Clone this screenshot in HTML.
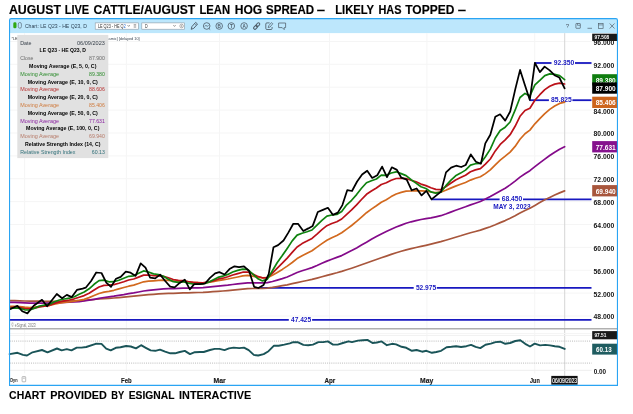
<!DOCTYPE html>
<html lang="en"><head><meta charset="utf-8"><title>August Live Cattle/August Lean Hog Spread</title>
<style>html,body{margin:0;padding:0;background:#fff}body{width:633px;height:414px;overflow:hidden}</style></head>
<body>
<svg width="633" height="414" viewBox="0 0 633 414" style="display:block;font-family:'Liberation Sans',sans-serif">
<rect width="633" height="414" fill="#fff"/>
<text x="8.9" y="13.5" font-size="12.0" font-weight="bold" fill="#000" text-anchor="start" textLength="52.2" lengthAdjust="spacingAndGlyphs" stroke="#000" stroke-width="0.15">AUGUST</text>
<text x="64.7" y="13.5" font-size="12.0" font-weight="bold" fill="#000" text-anchor="start" textLength="24.4" lengthAdjust="spacingAndGlyphs" stroke="#000" stroke-width="0.15">LIVE</text>
<text x="93.6" y="13.5" font-size="12.0" font-weight="bold" fill="#000" text-anchor="start" textLength="101.6" lengthAdjust="spacingAndGlyphs" stroke="#000" stroke-width="0.15">CATTLE/AUGUST</text>
<text x="199.4" y="13.5" font-size="12.0" font-weight="bold" fill="#000" text-anchor="start" textLength="30.7" lengthAdjust="spacingAndGlyphs" stroke="#000" stroke-width="0.15">LEAN</text>
<text x="234.7" y="13.5" font-size="12.0" font-weight="bold" fill="#000" text-anchor="start" textLength="27.5" lengthAdjust="spacingAndGlyphs" stroke="#000" stroke-width="0.15">HOG</text>
<text x="266.0" y="13.5" font-size="12.0" font-weight="bold" fill="#000" text-anchor="start" textLength="48.1" lengthAdjust="spacingAndGlyphs" stroke="#000" stroke-width="0.15">SPREAD</text>
<text x="316.7" y="13.5" font-size="12.0" font-weight="bold" fill="#000" text-anchor="start" textLength="8.3" lengthAdjust="spacingAndGlyphs" stroke="#000" stroke-width="0.15">–</text>
<text x="335.2" y="13.5" font-size="12.0" font-weight="bold" fill="#000" text-anchor="start" textLength="38.9" lengthAdjust="spacingAndGlyphs" stroke="#000" stroke-width="0.15">LIKELY</text>
<text x="378.4" y="13.5" font-size="12.0" font-weight="bold" fill="#000" text-anchor="start" textLength="23.1" lengthAdjust="spacingAndGlyphs" stroke="#000" stroke-width="0.15">HAS</text>
<text x="405.2" y="13.5" font-size="12.0" font-weight="bold" fill="#000" text-anchor="start" textLength="49.1" lengthAdjust="spacingAndGlyphs" stroke="#000" stroke-width="0.15">TOPPED</text>
<text x="457.7" y="13.5" font-size="12.0" font-weight="bold" fill="#000" text-anchor="start" textLength="8.3" lengthAdjust="spacingAndGlyphs" stroke="#000" stroke-width="0.15">–</text>
<text x="9.1" y="398.6" font-size="10.4" font-weight="bold" fill="#000" text-anchor="start" textLength="36.6" lengthAdjust="spacingAndGlyphs" stroke="#000" stroke-width="0.1">CHART</text>
<text x="50.2" y="398.6" font-size="10.4" font-weight="bold" fill="#000" text-anchor="start" textLength="56.6" lengthAdjust="spacingAndGlyphs" stroke="#000" stroke-width="0.1">PROVIDED</text>
<text x="111.3" y="398.6" font-size="10.4" font-weight="bold" fill="#000" text-anchor="start" textLength="12.9" lengthAdjust="spacingAndGlyphs" stroke="#000" stroke-width="0.1">BY</text>
<text x="128.7" y="398.6" font-size="10.4" font-weight="bold" fill="#000" text-anchor="start" textLength="45.8" lengthAdjust="spacingAndGlyphs" stroke="#000" stroke-width="0.1">ESIGNAL</text>
<text x="179.1" y="398.6" font-size="10.4" font-weight="bold" fill="#000" text-anchor="start" textLength="72.2" lengthAdjust="spacingAndGlyphs" stroke="#000" stroke-width="0.1">INTERACTIVE</text>
<rect x="9.7" y="19.0" width="607.4" height="14.1" fill="#bde7fc"/>
<line x1="9.7" x2="591.7" y1="41.5" y2="41.5" stroke="#f5f5f5" stroke-width="1"/>
<line x1="9.7" x2="591.7" y1="64.3" y2="64.3" stroke="#f5f5f5" stroke-width="1"/>
<line x1="9.7" x2="591.7" y1="87.2" y2="87.2" stroke="#f5f5f5" stroke-width="1"/>
<line x1="9.7" x2="591.7" y1="110.1" y2="110.1" stroke="#f5f5f5" stroke-width="1"/>
<line x1="9.7" x2="591.7" y1="133.0" y2="133.0" stroke="#f5f5f5" stroke-width="1"/>
<line x1="9.7" x2="591.7" y1="155.9" y2="155.9" stroke="#f5f5f5" stroke-width="1"/>
<line x1="9.7" x2="591.7" y1="178.7" y2="178.7" stroke="#f5f5f5" stroke-width="1"/>
<line x1="9.7" x2="591.7" y1="201.6" y2="201.6" stroke="#f5f5f5" stroke-width="1"/>
<line x1="9.7" x2="591.7" y1="224.5" y2="224.5" stroke="#f5f5f5" stroke-width="1"/>
<line x1="9.7" x2="591.7" y1="247.4" y2="247.4" stroke="#f5f5f5" stroke-width="1"/>
<line x1="9.7" x2="591.7" y1="270.3" y2="270.3" stroke="#f5f5f5" stroke-width="1"/>
<line x1="9.7" x2="591.7" y1="293.1" y2="293.1" stroke="#f5f5f5" stroke-width="1"/>
<line x1="9.7" x2="591.7" y1="316.0" y2="316.0" stroke="#f5f5f5" stroke-width="1"/>
<line x1="24.6" x2="24.6" y1="33.1" y2="373.5" stroke="#f5f5f5" stroke-width="1"/>
<line x1="126.4" x2="126.4" y1="33.1" y2="373.5" stroke="#f5f5f5" stroke-width="1"/>
<line x1="219.5" x2="219.5" y1="33.1" y2="373.5" stroke="#f5f5f5" stroke-width="1"/>
<line x1="329.5" x2="329.5" y1="33.1" y2="373.5" stroke="#f5f5f5" stroke-width="1"/>
<line x1="426.9" x2="426.9" y1="33.1" y2="373.5" stroke="#f5f5f5" stroke-width="1"/>
<line x1="534.7" x2="534.7" y1="33.1" y2="373.5" stroke="#f5f5f5" stroke-width="1"/>
<line x1="564.7" x2="564.7" y1="33.1" y2="376" stroke="#d6d6d6" stroke-width="1"/>
<line x1="9.7" x2="617" y1="328.75" y2="328.75" stroke="#b0b0b0" stroke-width="1.4"/>
<line x1="9.7" x2="591.7" y1="333.5" y2="333.5" stroke="#f5f5f5" stroke-width="1"/>
<line x1="9.7" x2="591.7" y1="335.4" y2="335.4" stroke="#f1f1f1" stroke-width="1"/>
<line x1="9.7" x2="591.7" y1="370.3" y2="370.3" stroke="#eeeeee" stroke-width="1"/>
<line x1="9.7" x2="591.7" y1="341.1" y2="341.1" stroke="#b2b2b2" stroke-width="0.9" stroke-dasharray="1 1.13"/>
<line x1="9.7" x2="591.7" y1="363.1" y2="363.1" stroke="#b2b2b2" stroke-width="0.9" stroke-dasharray="1 1.13"/>
<line x1="534.6" x2="551.5" y1="63.0" y2="63.0" stroke="#1818c0" stroke-width="1.8"/>
<line x1="575" x2="591.5" y1="63.0" y2="63.0" stroke="#1818c0" stroke-width="1.8"/>
<text x="553.7" y="64.9" font-size="7.2" font-weight="bold" fill="#1818c0" text-anchor="start" textLength="20.6" lengthAdjust="spacingAndGlyphs" >92.350</text>
<line x1="529.6" x2="548.9" y1="100.2" y2="100.2" stroke="#1818c0" stroke-width="1.8"/>
<line x1="572.4" x2="591.5" y1="100.2" y2="100.2" stroke="#1818c0" stroke-width="1.8"/>
<text x="551.1" y="102.0" font-size="7.2" font-weight="bold" fill="#1818c0" text-anchor="start" textLength="20.6" lengthAdjust="spacingAndGlyphs" >85.825</text>
<line x1="431.3" x2="499.6" y1="199.4" y2="199.4" stroke="#1818c0" stroke-width="1.8"/>
<line x1="523" x2="591.5" y1="199.4" y2="199.4" stroke="#1818c0" stroke-width="1.8"/>
<text x="501.7" y="201.3" font-size="7.2" font-weight="bold" fill="#1818c0" text-anchor="start" textLength="20.6" lengthAdjust="spacingAndGlyphs" >68.450</text>
<text x="493.3" y="209.1" font-size="7.0" font-weight="bold" fill="#1818c0" text-anchor="start" textLength="37.3" lengthAdjust="spacingAndGlyphs" >MAY 3, 2023</text>
<line x1="261" x2="413.7" y1="287.9" y2="287.9" stroke="#1818c0" stroke-width="1.8"/>
<line x1="436.8" x2="591.5" y1="287.9" y2="287.9" stroke="#1818c0" stroke-width="1.8"/>
<text x="415.9" y="290.3" font-size="7.2" font-weight="bold" fill="#1818c0" text-anchor="start" textLength="20.3" lengthAdjust="spacingAndGlyphs" >52.975</text>
<line x1="9.7" x2="288.8" y1="319.8" y2="319.8" stroke="#1818c0" stroke-width="1.8"/>
<line x1="312.1" x2="591.5" y1="319.8" y2="319.8" stroke="#1818c0" stroke-width="1.8"/>
<text x="291.0" y="321.7" font-size="7.2" font-weight="bold" fill="#1818c0" text-anchor="start" textLength="20.2" lengthAdjust="spacingAndGlyphs" >47.425</text>
<clipPath id="pc"><rect x="9.7" y="33.1" width="582" height="295"/></clipPath>
<g clip-path="url(#pc)">
<polyline points="9.9,300.6 14.8,300.7 19.8,300.8 24.7,301.0 29.7,301.1 34.6,301.2 39.6,301.2 44.5,301.3 49.5,301.3 54.4,301.3 59.4,301.3 64.3,301.2 69.3,301.0 74.3,300.8 79.2,300.6 84.2,300.3 89.1,299.9 94.1,299.5 99.0,299.0 104.0,298.6 108.9,298.3 113.9,298.0 118.8,297.6 123.8,297.1 128.7,296.6 133.7,296.1 138.6,295.6 143.6,295.1 148.5,294.7 153.5,294.3 158.5,293.9 163.4,293.6 168.4,293.4 173.3,293.3 178.3,293.1 183.2,292.9 188.2,292.8 193.1,292.7 198.1,292.5 203.0,292.4 208.0,292.1 212.9,291.7 217.9,291.4 222.8,291.0 227.8,290.6 232.7,290.1 237.7,289.7 242.7,289.2 247.6,288.7 252.6,288.5 257.5,288.5 262.5,288.4 267.4,288.1 272.4,287.4 277.3,286.6 282.3,285.7 287.2,284.8 292.2,283.7 297.1,282.6 302.1,281.5 307.0,280.5 312.0,279.4 317.0,278.1 321.9,276.8 326.9,275.4 331.8,274.1 336.8,272.8 341.7,271.4 346.7,269.8 351.6,268.2 356.6,266.5 361.5,264.8 366.5,263.0 371.4,261.2 376.4,259.5 381.3,257.8 386.3,256.1 391.2,254.4 396.2,252.7 401.2,251.3 406.1,249.9 411.1,248.7 416.0,247.5 421.0,246.4 425.9,245.3 430.9,244.1 435.8,242.9 440.8,241.6 445.7,240.2 450.7,238.7 455.6,237.2 460.6,235.8 465.5,234.3 470.5,232.8 475.4,231.5 480.4,230.1 485.4,228.4 490.3,226.7 495.3,224.7 500.2,222.6 505.2,220.6 510.1,218.3 515.1,215.8 520.0,213.1 525.0,210.6 529.9,208.3 534.9,205.4 539.8,202.6 544.8,199.8 549.7,197.4 554.7,195.1 559.6,192.9 564.6,190.9" fill="none" stroke="#a8563c" stroke-width="1.7" stroke-linejoin="round" stroke-linecap="round" />
<polyline points="9.9,302.3 14.8,302.4 19.8,302.6 24.7,302.9 29.7,303.1 34.6,303.2 39.6,303.2 44.5,303.2 49.5,303.1 54.4,302.9 59.4,302.6 64.3,302.4 69.3,302.2 74.3,302.0 79.2,301.7 84.2,301.0 89.1,300.2 94.1,299.3 99.0,298.4 104.0,297.5 108.9,296.9 113.9,296.2 118.8,295.4 123.8,294.6 128.7,293.7 133.7,292.9 138.6,292.0 143.6,291.0 148.5,290.3 153.5,289.8 158.5,289.3 163.4,288.9 168.4,288.7 173.3,288.6 178.3,288.4 183.2,288.2 188.2,288.1 193.1,287.9 198.1,287.8 203.0,287.6 208.0,287.2 212.9,286.7 217.9,286.1 222.8,285.6 227.8,285.1 232.7,284.5 237.7,283.8 242.7,283.3 247.6,282.8 252.6,282.8 257.5,282.9 262.5,282.9 267.4,282.6 272.4,281.5 277.3,280.1 282.3,278.6 287.2,277.0 292.2,274.8 297.1,272.5 302.1,270.8 307.0,269.2 312.0,267.6 317.0,265.5 321.9,263.3 326.9,261.1 331.8,259.2 336.8,257.4 341.7,255.6 346.7,253.1 351.6,250.6 356.6,247.9 361.5,245.1 366.5,242.3 371.4,239.3 376.4,236.6 381.3,233.9 386.3,231.5 391.2,229.2 396.2,227.0 401.2,225.1 406.1,223.3 411.1,221.8 416.0,220.6 421.0,219.5 425.9,218.6 430.9,217.9 435.8,216.8 440.8,215.7 445.7,214.0 450.7,212.1 455.6,210.2 460.6,208.5 465.5,206.8 470.5,204.9 475.4,203.2 480.4,201.5 485.4,199.1 490.3,196.6 495.3,193.7 500.2,190.9 505.2,188.2 510.1,184.9 515.1,181.1 520.0,177.1 525.0,173.7 529.9,170.7 534.9,166.7 539.8,162.9 544.8,159.1 549.7,155.5 554.7,152.2 559.6,149.2 564.6,146.7" fill="none" stroke="#840a8a" stroke-width="1.7" stroke-linejoin="round" stroke-linecap="round" />
<polyline points="9.9,306.4 14.8,306.4 19.8,306.7 24.7,307.2 29.7,307.5 34.6,307.2 39.6,306.5 44.5,306.0 49.5,305.3 54.4,304.1 59.4,303.1 64.3,302.4 69.3,301.9 74.3,301.2 79.2,300.4 84.2,299.3 89.1,297.6 94.1,295.5 99.0,293.5 104.0,292.1 108.9,291.3 113.9,290.3 118.8,288.9 123.8,287.5 128.7,286.2 133.7,285.1 138.6,283.5 143.6,281.8 148.5,281.1 153.5,280.8 158.5,280.4 163.4,280.2 168.4,280.4 173.3,280.9 178.3,281.2 183.2,281.5 188.2,282.0 193.1,282.3 198.1,282.6 203.0,282.8 208.0,282.4 212.9,281.6 217.9,280.7 222.8,279.9 227.8,279.0 232.7,278.0 237.7,277.0 242.7,275.9 247.6,275.3 252.6,276.1 257.5,277.2 262.5,277.9 267.4,277.7 272.4,275.2 277.3,272.4 282.3,269.4 287.2,266.1 292.2,262.5 297.1,258.6 302.1,255.8 307.0,253.2 312.0,250.7 317.0,247.1 321.9,243.6 326.9,240.3 331.8,237.8 336.8,235.5 341.7,232.8 346.7,229.1 351.6,225.5 356.6,221.4 361.5,217.1 366.5,212.7 371.4,209.1 376.4,205.7 381.3,202.2 386.3,199.7 391.2,196.6 396.2,194.0 401.2,192.4 406.1,191.2 411.1,191.0 416.0,190.7 421.0,190.9 425.9,191.1 430.9,192.0 435.8,192.6 440.8,192.2 445.7,190.3 450.7,188.1 455.6,186.1 460.6,184.3 465.5,182.5 470.5,180.1 475.4,178.2 480.4,176.8 485.4,173.6 490.3,169.8 495.3,164.8 500.2,160.1 505.2,156.2 510.1,152.1 515.1,146.4 520.0,139.3 525.0,133.7 529.9,130.1 534.9,123.8 539.8,118.6 544.8,113.7 549.7,109.4 554.7,106.0 559.6,103.4 564.6,102.1" fill="none" stroke="#d2691e" stroke-width="1.7" stroke-linejoin="round" stroke-linecap="round" />
<polyline points="9.9,307.5 14.8,307.4 19.8,307.7 24.7,308.6 29.7,308.9 34.6,308.2 39.6,307.0 44.5,306.2 49.5,305.3 54.4,303.5 59.4,301.9 64.3,300.9 69.3,300.0 74.3,298.8 79.2,297.2 84.2,295.6 89.1,293.2 94.1,290.0 99.0,287.0 104.0,285.4 108.9,285.2 113.9,284.6 118.8,283.3 123.8,281.7 128.7,280.0 133.7,279.0 138.6,277.1 143.6,275.1 148.5,275.0 153.5,275.7 158.5,275.8 163.4,276.3 168.4,277.8 173.3,279.5 178.3,280.4 183.2,280.5 188.2,281.5 193.1,282.3 198.1,282.7 203.0,282.9 208.0,282.2 212.9,280.9 217.9,279.2 222.8,278.2 227.8,276.8 232.7,275.0 237.7,273.6 242.7,272.2 247.6,272.0 252.6,273.9 257.5,276.3 262.5,277.8 267.4,277.6 272.4,273.2 277.3,268.1 282.3,263.2 287.2,258.1 292.2,252.4 297.1,247.0 302.1,243.6 307.0,241.1 312.0,238.4 317.0,234.2 321.9,229.7 326.9,225.7 331.8,223.5 336.8,221.7 341.7,219.0 346.7,214.3 351.6,209.9 356.6,204.9 361.5,199.5 366.5,194.3 371.4,191.0 376.4,188.0 381.3,184.5 386.3,182.8 391.2,180.3 396.2,178.5 401.2,178.3 406.1,178.5 411.1,180.2 416.0,181.8 421.0,184.1 425.9,185.6 430.9,187.8 435.8,189.4 440.8,189.7 445.7,186.7 450.7,183.3 455.6,180.0 460.6,177.6 465.5,175.2 470.5,171.7 475.4,169.9 480.4,168.7 485.4,164.1 490.3,159.0 495.3,150.9 500.2,144.4 505.2,139.9 510.1,134.7 515.1,126.3 520.0,116.3 525.0,110.5 529.9,108.2 534.9,100.2 539.8,94.7 544.8,89.6 549.7,86.3 554.7,84.1 559.6,83.1 564.6,84.0" fill="none" stroke="#bb1119" stroke-width="1.7" stroke-linejoin="round" stroke-linecap="round" />
<polyline points="9.9,308.7 14.8,308.0 19.8,308.3 24.7,309.8 29.7,310.0 34.6,308.1 39.6,306.0 44.5,305.1 49.5,304.2 54.4,301.7 59.4,300.0 64.3,299.0 69.3,298.2 74.3,296.7 79.2,294.3 84.2,292.0 89.1,288.8 94.1,284.3 99.0,280.6 104.0,280.1 108.9,281.8 113.9,281.7 118.8,280.3 123.8,278.2 128.7,276.3 133.7,275.8 138.6,273.3 143.6,270.9 148.5,272.0 153.5,273.9 158.5,274.5 163.4,276.3 168.4,279.2 173.3,281.7 178.3,282.3 183.2,281.6 188.2,283.1 193.1,284.0 198.1,284.1 203.0,284.0 208.0,282.5 212.9,279.9 217.9,277.4 222.8,276.2 227.8,274.4 232.7,272.0 237.7,270.4 242.7,269.1 247.6,269.4 252.6,273.8 257.5,278.4 262.5,280.9 267.4,279.1 272.4,270.8 277.3,262.5 282.3,255.6 287.2,248.4 292.2,240.9 297.1,235.1 302.1,233.2 307.0,231.8 312.0,230.0 317.0,225.1 321.9,220.3 326.9,216.1 331.8,215.0 336.8,214.5 341.7,211.6 346.7,204.8 351.6,200.3 356.6,194.6 361.5,188.3 366.5,182.7 371.4,180.7 376.4,179.0 381.3,175.2 386.3,175.3 391.2,173.0 396.2,171.8 401.2,173.6 406.1,175.6 411.1,179.7 416.0,183.1 421.0,186.8 425.9,188.5 430.9,191.9 435.8,193.2 440.8,192.2 445.7,185.9 450.7,180.4 455.6,175.8 460.6,173.1 465.5,170.1 470.5,165.1 475.4,163.7 480.4,163.4 485.4,156.7 490.3,149.1 495.3,138.0 500.2,130.5 505.2,127.2 510.1,122.0 515.1,110.2 520.0,97.5 525.0,93.4 529.9,95.9 534.9,84.9 539.8,80.4 544.8,75.6 549.7,73.9 554.7,74.3 559.6,75.6 564.6,79.6" fill="none" stroke="#0f820f" stroke-width="1.7" stroke-linejoin="round" stroke-linecap="round" />
<polyline points="9.9,309.2 17.4,305.8 22.2,311.2 27.4,313.4 33.7,305.8 42.0,299.8 47.1,306.2 56.8,294.0 62.1,298.2 66.8,294.9 71.8,297.1 76.9,289.9 82.6,288.6 85.7,287.7 91.1,281.0 96.2,272.5 101.5,273.0 106.3,282.6 111.0,286.9 116.0,278.8 120.7,276.9 125.8,271.7 130.6,272.7 135.6,275.9 140.7,263.3 145.5,267.7 150.1,277.6 155.2,278.4 160.1,274.6 165.2,281.0 170.2,286.7 174.6,287.3 179.7,282.9 184.8,279.7 189.8,289.4 194.2,284.1 199.9,284.1 205.0,283.5 210.0,277.8 215.1,273.4 219.3,272.1 224.5,274.5 229.5,269.1 234.5,266.3 239.0,267.2 244.0,266.3 249.1,271.0 254.1,286.8 258.5,288.0 263.6,284.9 268.7,274.1 273.5,247.2 278.1,245.1 283.5,240.5 288.2,232.9 293.3,223.8 298.0,223.8 303.3,231.0 308.3,228.4 312.7,225.9 317.8,212.0 322.9,209.9 327.9,207.8 333.0,214.9 337.8,212.6 342.4,205.1 347.3,190.1 352.0,191.0 357.1,181.5 362.1,174.5 367.2,170.7 372.2,177.9 377.3,175.2 382.1,166.6 387.0,177.1 391.8,167.3 396.9,169.9 401.3,177.7 406.7,179.6 411.7,190.3 416.6,188.5 421.6,195.4 426.4,190.9 431.5,199.4 441.0,191.6 446.0,172.4 451.1,167.6 456.1,165.7 461.2,167.0 465.7,165.0 470.8,154.4 475.9,161.8 480.9,163.7 485.3,143.4 490.3,134.7 495.3,116.7 500.1,114.3 505.2,120.6 510.2,111.5 515.3,89.1 520.1,69.9 524.8,84.7 529.8,99.9 534.9,62.8 539.9,72.1 544.6,66.6 549.7,70.4 554.5,75.2 559.3,77.5 564.6,88.3" fill="none" stroke="#000" stroke-width="1.75" stroke-linejoin="round" stroke-linecap="round" stroke-linejoin="miter"/>
</g>
<polyline points="9.6,354.1 17.5,352.8 23.0,354.9 27.0,355.5 32.5,352.3 42.0,350.0 47.5,352.3 57.0,348.5 61.7,350.4 66.8,349.2 71.5,350.4 76.7,347.6 81.5,347.6 86.2,347.0 95.7,343.8 101.5,343.9 106.2,348.7 110.7,350.4 115.8,347.8 120.5,347.3 126.1,346.0 130.8,346.5 136.0,348.4 141.1,345.2 145.8,347.8 150.6,350.4 155.3,350.8 160.0,349.6 165.1,351.7 170.3,353.3 175.0,353.3 179.8,352.0 184.8,350.9 190.0,354.1 194.8,352.2 200.0,352.0 203.7,352.0 210.0,350.0 214.7,348.9 219.5,348.9 224.5,350.1 229.0,348.4 233.7,347.6 239.2,348.1 244.0,347.6 248.7,350.1 253.8,354.9 258.2,355.5 263.7,354.1 268.5,351.2 274.0,345.7 278.7,345.7 284.3,344.6 289.8,343.3 293.2,342.2 297.6,342.2 303.4,344.9 308.2,345.2 312.9,344.6 318.4,342.1 323.2,342.1 327.9,341.4 333.0,344.6 337.7,344.6 342.9,343.0 348.5,341.3 351.9,342.1 357.9,340.6 362.7,340.2 367.4,339.9 372.5,343.0 376.9,342.5 381.6,341.4 386.9,345.2 392.1,343.8 396.1,344.4 401.6,346.8 406.3,347.8 411.9,350.8 416.6,350.0 422.1,351.7 426.4,350.8 431.9,352.8 436.3,352.0 441.1,350.8 446.6,347.3 451.4,346.8 456.1,346.2 461.1,347.0 466.4,346.2 471.1,344.9 475.6,346.9 480.3,348.1 485.5,344.7 490.8,343.6 495.5,342.1 500.3,341.7 505.3,343.8 510.1,343.0 515.3,341.0 520.3,340.2 525.2,343.8 530.0,346.5 534.7,343.6 540.1,345.4 545.3,344.9 550.0,345.4 554.8,346.2 559.5,346.8 564.7,348.9" fill="none" stroke="#1a5458" stroke-width="1.9" stroke-linejoin="round" stroke-linecap="round" />
<rect x="17.3" y="34.9" width="91" height="123.2" fill="#e1e1e1"/>
<text x="20.2" y="44.5" font-size="6.2" font-weight="normal" fill="#39424c" text-anchor="start" textLength="11.3" lengthAdjust="spacingAndGlyphs" >Date</text>
<text x="77.0" y="44.5" font-size="6.2" font-weight="normal" fill="#39424c" text-anchor="start" textLength="27.9" lengthAdjust="spacingAndGlyphs" >06/09/2023</text>
<text x="39.6" y="52.3" font-size="6.2" font-weight="bold" fill="#000" text-anchor="start" textLength="46.4" lengthAdjust="spacingAndGlyphs" >LE Q23 - HE Q23, D</text>
<text x="20.2" y="60.1" font-size="6.2" font-weight="normal" fill="#6c6c6c" text-anchor="start" textLength="13.2" lengthAdjust="spacingAndGlyphs" >Close</text>
<text x="89.0" y="60.1" font-size="6.2" font-weight="normal" fill="#6c6c6c" text-anchor="start" textLength="15.9" lengthAdjust="spacingAndGlyphs" >87.900</text>
<text x="29.1" y="67.9" font-size="6.2" font-weight="bold" fill="#000" text-anchor="start" textLength="67.3" lengthAdjust="spacingAndGlyphs" >Moving Average (E, 5, 0, C)</text>
<text x="20.2" y="75.7" font-size="6.2" font-weight="normal" fill="#2c8c2c" text-anchor="start" textLength="38.8" lengthAdjust="spacingAndGlyphs" >Moving Average</text>
<text x="89.0" y="75.7" font-size="6.2" font-weight="normal" fill="#2c8c2c" text-anchor="start" textLength="15.9" lengthAdjust="spacingAndGlyphs" >89.380</text>
<text x="27.7" y="83.5" font-size="6.2" font-weight="bold" fill="#000" text-anchor="start" textLength="70.2" lengthAdjust="spacingAndGlyphs" >Moving Average (E, 10, 0, C)</text>
<text x="20.2" y="91.3" font-size="6.2" font-weight="normal" fill="#b83030" text-anchor="start" textLength="38.8" lengthAdjust="spacingAndGlyphs" >Moving Average</text>
<text x="89.0" y="91.3" font-size="6.2" font-weight="normal" fill="#b83030" text-anchor="start" textLength="15.9" lengthAdjust="spacingAndGlyphs" >88.606</text>
<text x="27.7" y="99.1" font-size="6.2" font-weight="bold" fill="#000" text-anchor="start" textLength="70.2" lengthAdjust="spacingAndGlyphs" >Moving Average (E, 20, 0, C)</text>
<text x="20.2" y="106.9" font-size="6.2" font-weight="normal" fill="#cf7a3c" text-anchor="start" textLength="38.8" lengthAdjust="spacingAndGlyphs" >Moving Average</text>
<text x="89.0" y="106.9" font-size="6.2" font-weight="normal" fill="#cf7a3c" text-anchor="start" textLength="15.9" lengthAdjust="spacingAndGlyphs" >85.406</text>
<text x="27.7" y="114.7" font-size="6.2" font-weight="bold" fill="#000" text-anchor="start" textLength="70.2" lengthAdjust="spacingAndGlyphs" >Moving Average (E, 50, 0, C)</text>
<text x="20.2" y="122.5" font-size="6.2" font-weight="normal" fill="#8a22a0" text-anchor="start" textLength="38.8" lengthAdjust="spacingAndGlyphs" >Moving Average</text>
<text x="89.0" y="122.5" font-size="6.2" font-weight="normal" fill="#8a22a0" text-anchor="start" textLength="15.9" lengthAdjust="spacingAndGlyphs" >77.631</text>
<text x="26.1" y="130.3" font-size="6.2" font-weight="bold" fill="#000" text-anchor="start" textLength="73.3" lengthAdjust="spacingAndGlyphs" >Moving Average (E, 100, 0, C)</text>
<text x="20.2" y="138.1" font-size="6.2" font-weight="normal" fill="#b77a68" text-anchor="start" textLength="38.8" lengthAdjust="spacingAndGlyphs" >Moving Average</text>
<text x="89.0" y="138.1" font-size="6.2" font-weight="normal" fill="#b77a68" text-anchor="start" textLength="15.9" lengthAdjust="spacingAndGlyphs" >69.940</text>
<text x="25.1" y="145.9" font-size="6.2" font-weight="bold" fill="#000" text-anchor="start" textLength="75.3" lengthAdjust="spacingAndGlyphs" >Relative Strength Index (14, C)</text>
<text x="20.2" y="153.7" font-size="6.2" font-weight="normal" fill="#2f6f78" text-anchor="start" textLength="55.3" lengthAdjust="spacingAndGlyphs" >Relative Strength Index</text>
<text x="91.8" y="153.7" font-size="6.2" font-weight="normal" fill="#2f6f78" text-anchor="start" textLength="13.1" lengthAdjust="spacingAndGlyphs" >60.13</text>
<text x="11.6" y="40.0" font-size="4.0" font-weight="normal" fill="#333" text-anchor="start" textLength="6.0" lengthAdjust="spacingAndGlyphs" >*LE</text>
<text x="108.6" y="40.0" font-size="3.9" font-weight="normal" fill="#3a4450" text-anchor="start" textLength="31.0" lengthAdjust="spacingAndGlyphs" >amic] [delayed 10]</text>
<text x="593.6" y="67.7" font-size="6.8" font-weight="bold" fill="#151515" text-anchor="start" textLength="20.8" lengthAdjust="spacingAndGlyphs" >92.000</text>
<text x="593.6" y="90.6" font-size="6.8" font-weight="bold" fill="#151515" text-anchor="start" textLength="20.8" lengthAdjust="spacingAndGlyphs" >88.000</text>
<text x="593.6" y="113.5" font-size="6.8" font-weight="bold" fill="#151515" text-anchor="start" textLength="20.8" lengthAdjust="spacingAndGlyphs" >84.000</text>
<text x="593.6" y="136.4" font-size="6.8" font-weight="bold" fill="#151515" text-anchor="start" textLength="20.8" lengthAdjust="spacingAndGlyphs" >80.000</text>
<text x="593.6" y="159.3" font-size="6.8" font-weight="bold" fill="#151515" text-anchor="start" textLength="20.8" lengthAdjust="spacingAndGlyphs" >76.000</text>
<text x="593.6" y="182.1" font-size="6.8" font-weight="bold" fill="#151515" text-anchor="start" textLength="20.8" lengthAdjust="spacingAndGlyphs" >72.000</text>
<text x="593.6" y="205.0" font-size="6.8" font-weight="bold" fill="#151515" text-anchor="start" textLength="20.8" lengthAdjust="spacingAndGlyphs" >68.000</text>
<text x="593.6" y="227.9" font-size="6.8" font-weight="bold" fill="#151515" text-anchor="start" textLength="20.8" lengthAdjust="spacingAndGlyphs" >64.000</text>
<text x="593.6" y="250.8" font-size="6.8" font-weight="bold" fill="#151515" text-anchor="start" textLength="20.8" lengthAdjust="spacingAndGlyphs" >60.000</text>
<text x="593.6" y="273.7" font-size="6.8" font-weight="bold" fill="#151515" text-anchor="start" textLength="20.8" lengthAdjust="spacingAndGlyphs" >56.000</text>
<text x="593.6" y="296.5" font-size="6.8" font-weight="bold" fill="#151515" text-anchor="start" textLength="20.8" lengthAdjust="spacingAndGlyphs" >52.000</text>
<text x="593.6" y="319.4" font-size="6.8" font-weight="bold" fill="#151515" text-anchor="start" textLength="20.8" lengthAdjust="spacingAndGlyphs" >48.000</text>
<text x="593.6" y="44.9" font-size="6.8" font-weight="bold" fill="#151515" text-anchor="start" textLength="20.8" lengthAdjust="spacingAndGlyphs" >96.000</text>
<text x="593.7" y="373.9" font-size="6.8" font-weight="bold" fill="#151515" text-anchor="start" textLength="12.4" lengthAdjust="spacingAndGlyphs" >0.00</text>
<rect x="592.2" y="74.2" width="25" height="11.3" fill="#0f7d0f"/>
<text x="595.7" y="82.7" font-size="6.9" font-weight="bold" fill="#fff" text-anchor="start" textLength="20.0" lengthAdjust="spacingAndGlyphs" >89.380</text>
<rect x="592.2" y="96.7" width="25" height="11.3" fill="#cd651d"/>
<text x="595.7" y="105.2" font-size="6.9" font-weight="bold" fill="#fff" text-anchor="start" textLength="20.0" lengthAdjust="spacingAndGlyphs" >85.406</text>
<rect x="592.2" y="82.4" width="25" height="11.3" fill="#000"/>
<text x="595.7" y="90.9" font-size="6.9" font-weight="bold" fill="#fff" text-anchor="start" textLength="20.0" lengthAdjust="spacingAndGlyphs" >87.900</text>
<rect x="592.2" y="141.1" width="25" height="11.3" fill="#86128e"/>
<text x="595.7" y="149.6" font-size="6.9" font-weight="bold" fill="#fff" text-anchor="start" textLength="20.0" lengthAdjust="spacingAndGlyphs" >77.631</text>
<rect x="592.2" y="185.1" width="25" height="11.3" fill="#a8563c"/>
<text x="595.7" y="193.6" font-size="6.9" font-weight="bold" fill="#fff" text-anchor="start" textLength="20.0" lengthAdjust="spacingAndGlyphs" >69.940</text>
<rect x="592.2" y="33.7" width="25" height="7.3" fill="#1a1a1a"/>
<text x="594.6" y="39.2" font-size="5.0" font-weight="bold" fill="#fff" text-anchor="start" textLength="14.6" lengthAdjust="spacingAndGlyphs" >97.508</text>
<rect x="592.2" y="331.1" width="25" height="8.2" fill="#1a1a1a"/>
<text x="594.4" y="337.1" font-size="5.0" font-weight="bold" fill="#fff" text-anchor="start" textLength="11.9" lengthAdjust="spacingAndGlyphs" >97.51</text>
<rect x="592.2" y="343.7" width="25" height="10.9" fill="#1f5c60"/>
<text x="596.1" y="351.9" font-size="6.9" font-weight="bold" fill="#fff" text-anchor="start" textLength="15.6" lengthAdjust="spacingAndGlyphs" >60.13</text>
<text x="121.0" y="382.9" font-size="6.9" font-weight="bold" fill="#1a1a1a" text-anchor="start" textLength="10.6" lengthAdjust="spacingAndGlyphs" stroke="#1a1a1a" stroke-width="0.15">Feb</text>
<text x="213.6" y="382.9" font-size="6.9" font-weight="bold" fill="#1a1a1a" text-anchor="start" textLength="12.2" lengthAdjust="spacingAndGlyphs" stroke="#1a1a1a" stroke-width="0.15">Mar</text>
<text x="324.4" y="382.9" font-size="6.9" font-weight="bold" fill="#1a1a1a" text-anchor="start" textLength="10.9" lengthAdjust="spacingAndGlyphs" stroke="#1a1a1a" stroke-width="0.15">Apr</text>
<text x="420.0" y="382.9" font-size="6.9" font-weight="bold" fill="#1a1a1a" text-anchor="start" textLength="13.2" lengthAdjust="spacingAndGlyphs" stroke="#1a1a1a" stroke-width="0.15">May</text>
<text x="530.0" y="382.9" font-size="6.9" font-weight="bold" fill="#1a1a1a" text-anchor="start" textLength="9.8" lengthAdjust="spacingAndGlyphs" stroke="#1a1a1a" stroke-width="0.15">Jun</text>
<rect x="551.3" y="375.9" width="26.3" height="8.8" fill="#111"/>
<text x="552.3" y="382.7" font-size="6.3" font-weight="normal" fill="#fff" text-anchor="start" textLength="24.7" lengthAdjust="spacingAndGlyphs" stroke="#fff" stroke-width="0.15">06/09/2023</text>
<text x="10.3" y="381.5" font-size="5.0" font-weight="bold" fill="#222" text-anchor="start" textLength="7.3" lengthAdjust="spacingAndGlyphs" >Dyn</text>
<rect x="22.1" y="376.6" width="3.6" height="5.2" rx="0.6" fill="#fff" stroke="#777" stroke-width="0.5"/>
<line x1="22.9" x2="24.9" y1="378.2" y2="378.2" stroke="#777" stroke-width="0.5"/>
<text x="11.3" y="326.5" font-size="4.5" font-weight="normal" fill="#7a7a7a" text-anchor="start" textLength="24.4" lengthAdjust="spacingAndGlyphs" >© eSignal, 2023</text>
<rect x="13.3" y="22.3" width="3.2" height="6.0" rx="1.4" fill="#2fa810"/>
<rect x="18.3" y="22.5" width="3.1" height="5.7" rx="1.5" fill="none" stroke="#4a5a6a" stroke-width="0.6"/>
<text x="24.9" y="27.6" font-size="6.0" font-weight="normal" fill="#2f4456" text-anchor="start" textLength="62.0" lengthAdjust="spacingAndGlyphs" >Chart: LE Q23 - HE Q23, D</text>
<rect x="95.2" y="22.9" width="43.2" height="6.3" fill="#fff" stroke="#8e9aa3" stroke-width="0.6"/>
<text x="97.9" y="27.6" font-size="4.6" font-weight="normal" fill="#333" text-anchor="start" textLength="25.6" lengthAdjust="spacingAndGlyphs" >LE Q23 - HE Q</text>
<text x="123.6" y="27.6" font-size="4.6" font-weight="normal" fill="#2a6fd0" text-anchor="start" textLength="2.3" lengthAdjust="spacingAndGlyphs" >2</text>
<polyline points="127.6,25.2 128.7,26.4 129.8,25.2" fill="none" stroke="#444" stroke-width="0.6"/>
<line x1="133.7" x2="136.2" y1="24.6" y2="24.6" stroke="#555" stroke-width="0.5"/>
<line x1="133.7" x2="136.2" y1="25.9" y2="25.9" stroke="#555" stroke-width="0.5"/>
<line x1="133.7" x2="136.2" y1="27.2" y2="27.2" stroke="#555" stroke-width="0.5"/>
<rect x="141.8" y="22.9" width="42.6" height="6.3" fill="#fff" stroke="#8e9aa3" stroke-width="0.6"/>
<text x="144.9" y="27.7" font-size="4.8" font-weight="normal" fill="#333" text-anchor="start" textLength="2.6" lengthAdjust="spacingAndGlyphs" >D</text>
<polyline points="173.4,25.2 174.5,26.4 175.6,25.2" fill="none" stroke="#444" stroke-width="0.6"/>
<circle cx="181.6" cy="26" r="1.8" fill="none" stroke="#666" stroke-width="0.5"/>
<line x1="181.6" x2="181.6" y1="24.9" y2="27.1" stroke="#666" stroke-width="0.5"/>
<path d="M191.2 29.3 L191.9 26.6 L195.6 22.4 L197.5 24.0 L193.8 28.3 Z" fill="none" stroke="#4d5c68" stroke-width="0.95" stroke-linejoin="round"/>
<line x1="194.6" y1="23.6" x2="196.4" y2="25.2" stroke="#4d5c68" stroke-width="0.6"/>
<circle cx="206.7" cy="26.0" r="3.3" fill="none" stroke="#4d5c68" stroke-width="0.8"/>
<polyline points="204.8,26.6 206.0,25.1 207.2,26.6 208.6,25.0" fill="none" stroke="#4d5c68" stroke-width="0.65"/>
<line x1="208.8" y1="28.4" x2="210.2" y2="29.6" stroke="#4d5c68" stroke-width="0.8"/>
<circle cx="219.2" cy="26.0" r="3.3" fill="none" stroke="#4d5c68" stroke-width="0.8"/>
<text x="219.2" y="27.6" font-size="4.6" font-weight="bold" fill="#4d5c68" text-anchor="middle" >B</text>
<circle cx="231.3" cy="26.0" r="3.3" fill="none" stroke="#4d5c68" stroke-width="0.8"/>
<text x="231.3" y="27.6" font-size="4.6" font-weight="bold" fill="#4d5c68" text-anchor="middle" >T</text>
<circle cx="244.1" cy="26.0" r="3.3" fill="none" stroke="#4d5c68" stroke-width="0.8"/>
<text x="244.1" y="27.6" font-size="4.6" font-weight="bold" fill="#4d5c68" text-anchor="middle" >A</text>
<g fill="none" stroke="#4d5c68" stroke-width="1.0"><rect x="-1.3" y="-2.4" width="2.6" height="4.4" rx="1.3" transform="translate(255.4 27.5) rotate(42)"/><rect x="-1.3" y="-2.0" width="2.6" height="4.4" rx="1.3" transform="translate(258.0 24.6) rotate(42)"/></g>
<path d="M269.6 22.9 H266.9 Q265.8 22.9 265.8 24.0 V28.4 Q265.8 29.5 266.9 29.5 H271.0 Q272.1 29.5 272.1 28.4 V27.0" fill="none" stroke="#4d5c68" stroke-width="0.85"/>
<path d="M268.2 27.6 L268.7 25.8 L271.4 22.6 L272.8 23.7 L270.1 27.0 Z" fill="none" stroke="#4d5c68" stroke-width="0.7" stroke-linejoin="round"/>
<path d="M278.6 23.0 H285.6 V27.6 H284.2 V29.6 L282.2 27.6 H278.6 Z" fill="none" stroke="#4d5c68" stroke-width="0.75" stroke-linejoin="round"/>
<text x="567.5" y="28.1" font-size="6.2" font-weight="normal" fill="#4d5c68" text-anchor="middle" >?</text>
<rect x="575.9" y="23.5" width="4.4" height="4.8" rx="0.4" fill="none" stroke="#4d5c68" stroke-width="0.7"/>
<path d="M577.5 23.5 V25.3 H580.3" fill="none" stroke="#4d5c68" stroke-width="0.6"/>
<line x1="587.5" x2="592.0" y1="28.3" y2="28.3" stroke="#4d5c68" stroke-width="0.7"/>
<rect x="598.4" y="23.6" width="4.7" height="4.8" fill="none" stroke="#4d5c68" stroke-width="0.65"/>
<line x1="598.4" x2="603.1" y1="24.9" y2="24.9" stroke="#4d5c68" stroke-width="0.6"/>
<path d="M609.7 23.5 L614.5 28.5 M614.5 23.5 L609.7 28.5" stroke="#4d5c68" stroke-width="0.7" fill="none"/>
<path d="M9.55 385.4 V20.2 Q9.55 18.65 11.1 18.65 H615.9 Q617.45 18.65 617.45 20.2 V385.4 Z" fill="none" stroke="#2aa4f3" stroke-width="1.1"/>
</svg>
</body></html>
